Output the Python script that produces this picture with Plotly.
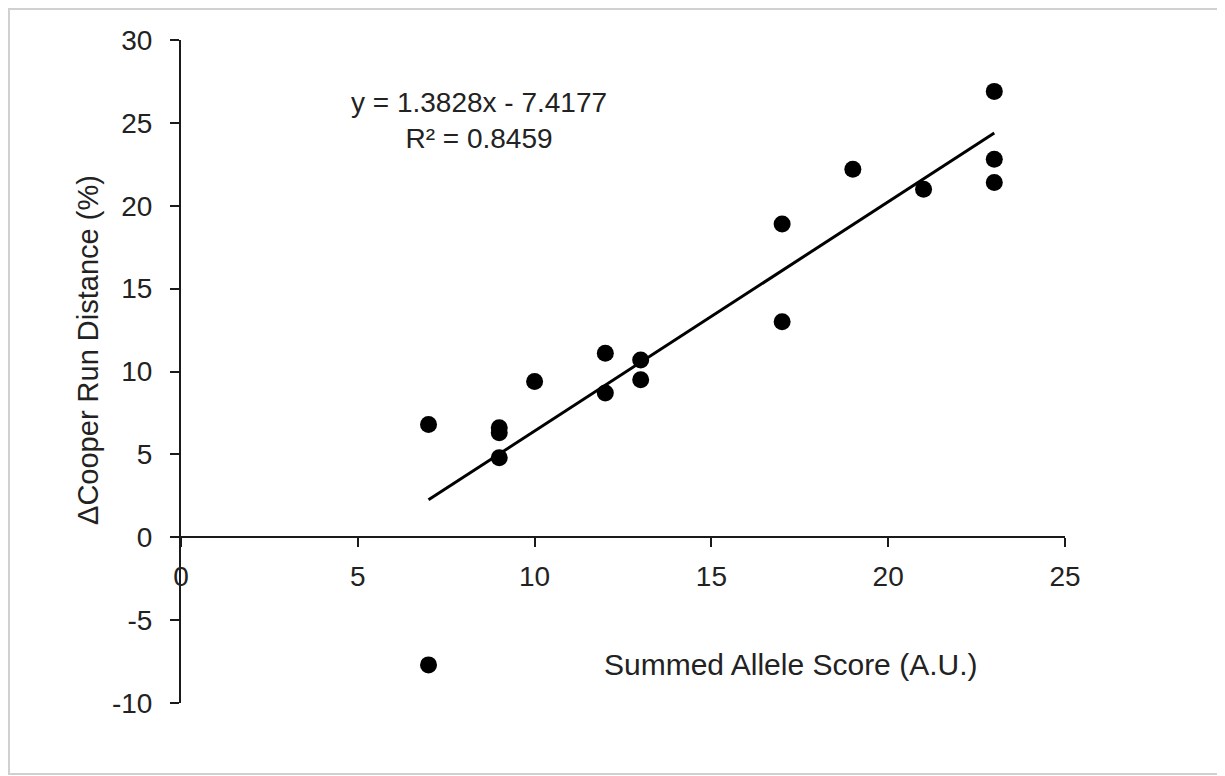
import plotly.graph_objects as go

# Data
allele_score = [7, 7, 9, 9, 9, 10, 12, 12, 13, 13, 17, 17, 19, 21, 23, 23, 23]
cooper_change = [-7.7, 6.8, 6.6, 6.3, 4.8, 9.4, 11.1, 8.7, 10.7, 9.5, 18.9, 13.0, 22.2, 21.0, 26.9, 22.8, 21.4]

slope = 1.3828
intercept = -7.4177
r_squared = 0.8459

x_ticks = [0, 5, 10, 15, 20, 25]
y_ticks = [-10, -5, 0, 5, 10, 15, 20, 25, 30]

FONT = "Liberation Sans, Arial, sans-serif"
TXT = "#222222"
AX = "#1a1a1a"

trend_x = [min(allele_score), max(allele_score)]
trend_y = [slope * v + intercept for v in trend_x]

fig = go.Figure()
fig.add_trace(go.Scatter(
    x=allele_score, y=cooper_change, mode="markers",
    marker=dict(color="#000000", size=17, line=dict(width=0)),
    showlegend=False, hoverinfo="x+y"))
fig.add_trace(go.Scatter(
    x=trend_x, y=trend_y, mode="lines",
    line=dict(color="#000000", width=3),
    showlegend=False, hoverinfo="skip"))

fig.update_layout(
    width=1217, height=768,
    margin=dict(l=173, r=160, t=32, b=73),
    paper_bgcolor="white", plot_bgcolor="white",
    font=dict(family=FONT, size=28, color=TXT),
    xaxis=dict(range=[0, 25], tickvals=x_ticks, ticktext=[str(v) for v in x_ticks],
               showgrid=False, zeroline=False, showline=True, linecolor=AX, linewidth=2,
               ticks="outside", ticklen=9, tickwidth=2, tickcolor=AX,
               anchor="free", position=0.25, ticklabelstandoff=5,
               tickfont=dict(family=FONT, size=28, color=TXT)),
    yaxis=dict(range=[-10, 30], tickvals=y_ticks, ticktext=[str(v) for v in y_ticks],
               showgrid=False, zeroline=False, showline=True, linecolor=AX, linewidth=2,
               ticks="outside", ticklen=9, tickwidth=2, tickcolor=AX,
               ticklabelstandoff=12,
               tickfont=dict(family=FONT, size=28, color=TXT)),
)

fig.add_annotation(
    x=8.43, y=25.15, xref="x", yref="y",
    text=f"y = {slope}x - {abs(intercept)}<br>R² = {r_squared}",
    showarrow=False, align="center", xanchor="center", yanchor="middle",
    font=dict(family=FONT, size=28, color=TXT))

fig.add_annotation(
    x=17.25, y=-7.7, xref="x", yref="y",
    text="Summed Allele Score (A.U.)",
    showarrow=False, xanchor="center", yanchor="middle",
    font=dict(family=FONT, size=30, color=TXT))

fig.add_annotation(
    x=0, y=11.3, xref="paper", yref="y", xshift=-93,
    text="ΔCooper Run Distance (%)", textangle=-90,
    showarrow=False, xanchor="center", yanchor="middle",
    font=dict(family=FONT, size=29, color=TXT))

fig.add_shape(type="rect", xref="paper", yref="paper",
              x0=-0.1946, x1=1.1731, y0=-0.1071, y1=1.0468,
              line=dict(color="#d0d0d0", width=2), fillcolor="rgba(0,0,0,0)", layer="below")

fig.write_html("out.html")
